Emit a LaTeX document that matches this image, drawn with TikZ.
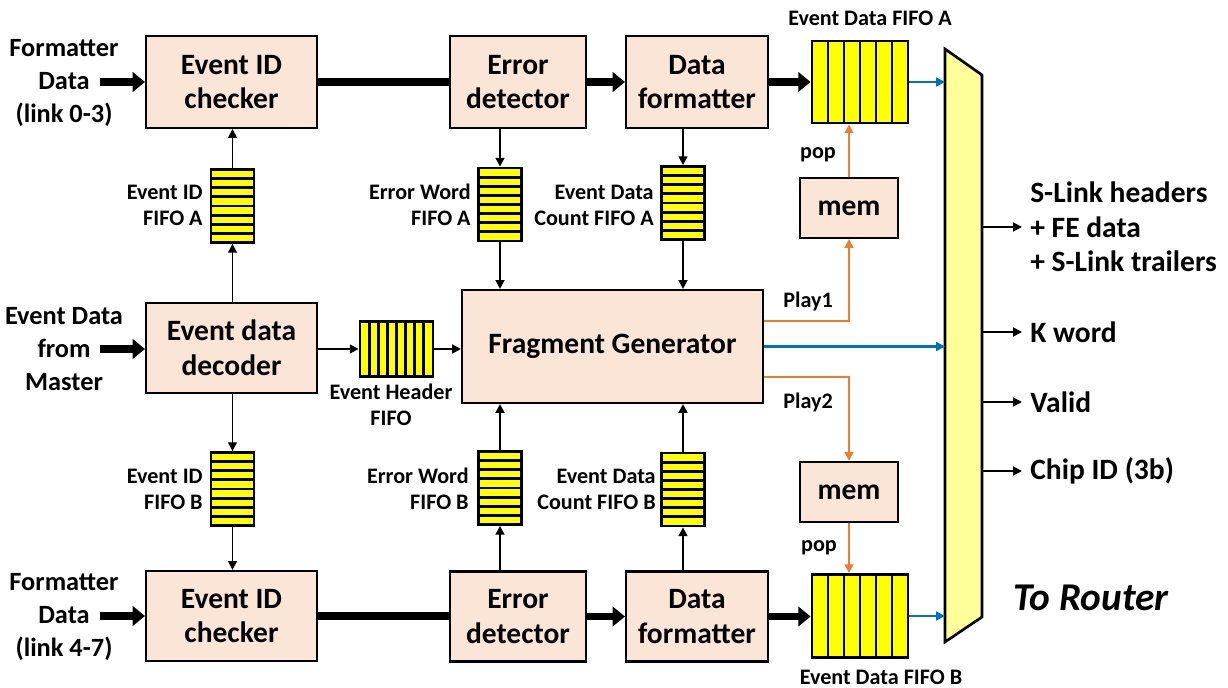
\documentclass[tikz,border=0pt]{standalone}
\usepackage{fontspec}
\setmainfont{Carlito}
\usetikzlibrary{arrows.meta,calc}

\definecolor{blockfill}{RGB}{251,229,214}
\definecolor{fifoyellow}{RGB}{255,255,0}
\definecolor{muxfill}{RGB}{255,255,153}
\definecolor{outblue}{RGB}{0,112,192}
\definecolor{playorange}{RGB}{237,125,49}

\tikzset{
  block/.style={draw, fill=blockfill, line width=1.2pt, align=center, inner sep=0pt,
    font=\fontsize{16.8}{19.8}\selectfont\bfseries},
  fifo/.style={draw, fill=fifoyellow, line width=1.6pt, inner sep=0pt},
  vfifo/.style={fifo, minimum width=0.86cm, minimum height=1.46cm,
    path picture={\foreach \k in {1,...,7}
      \draw[line width=1.6pt] ($(path picture bounding box.south west)!\k/8!(path picture bounding box.north west)$)
        -- ($(path picture bounding box.south east)!\k/8!(path picture bounding box.north east)$);}},
  hfifo/.style={fifo,
    path picture={\foreach \k in {1,...,#1}
      \draw[line width=1.6pt] ($(path picture bounding box.south west)!\k/#1!(path picture bounding box.south east)$)
        -- ($(path picture bounding box.north west)!\k/#1!(path picture bounding box.north east)$);}},
  lbl/.style={inner sep=0pt, font=\fontsize{12.6}{14.8}\selectfont\bfseries},
  side/.style={inner sep=0pt, align=center, font=\fontsize{15}{18.7}\selectfont\bfseries},
  outlbl/.style={inner sep=0pt, anchor=west, align=left, font=\fontsize{16.8}{19.5}\selectfont\bfseries},
  thickline/.style={line width=4pt},
  bigarr/.style={line width=4pt, -{Triangle[length=7pt,width=11pt]}},
  arr/.style={line width=1.1pt, -{Triangle[length=5pt,width=5pt]}},
  bluearr/.style={arr, line width=1.3pt, color=outblue},
  orangearr/.style={arr, line width=1.3pt, color=playorange},
  mux/.style={draw, fill=muxfill, line width=1.5pt, line join=miter}
}

\begin{document}
\begin{tikzpicture}[x=0.02cm, y=-0.02cm]
  \useasboundingbox (0,0) rectangle (1228,688);
  % Draw blocks
  \node[block, minimum width=3.42cm, minimum height=1.84cm] (chkA) at (231.5,82) {Event ID\\checker};
  \node[block, minimum width=2.72cm, minimum height=1.84cm] (errA) at (518,82) {Error\\detector};
  \node[block, minimum width=2.84cm, minimum height=1.84cm] (fmtA) at (697,82) {Data\\formatter};
  \node[block, minimum width=3.42cm, minimum height=1.8cm] (dec) at (231.5,348) {Event data\\decoder};
  \node[block, minimum width=6.02cm, minimum height=2.26cm] (fg) at (612.5,346.5) {Fragment Generator};
  \node[block, minimum width=3.42cm, minimum height=1.8cm] (chkB) at (231.5,616) {Event ID\\checker};
  \node[block, minimum width=2.72cm, minimum height=1.8cm] (errB) at (518,616.5) {Error\\detector};
  \node[block, minimum width=2.84cm, minimum height=1.8cm] (fmtB) at (697,616.5) {Data\\formatter};
  \node[block, minimum width=1.96cm, minimum height=1.2cm] (memA) at (849,208) {mem};
  \node[block, minimum width=1.96cm, minimum height=1.2cm] (memB) at (849,492) {mem};
  % Draw FIFOs
  \node[vfifo] (idA) at (232.5,206) {};
  \node[vfifo] (idB) at (232.5,489) {};
  \node[vfifo] (ewA) at (500,204.5) {};
  \node[vfifo] (ewB) at (500,488) {};
  \node[vfifo] (dcA) at (683,203) {};
  \node[vfifo] (dcB) at (683,489.5) {};
  \node[hfifo=8, minimum width=1.46cm, minimum height=1.1cm] (hdr) at (396.5,349) {};
  \node[hfifo=6, minimum width=1.92cm, minimum height=1.64cm] (edA) at (860,82) {};
  \node[hfifo=6, minimum width=1.92cm, minimum height=1.66cm] (edB) at (860,616) {};
  % Draw output mux
  \draw[mux] (945,49) coordinate (muxNW) -- (982,75) coordinate (muxNE)
    -- (982,617) coordinate (muxSE) -- (945,642) coordinate (muxSW) -- cycle;
  % Add input labels
  \node[side] (srcA) at (64,83) {Formatter\\Data\\(link 0-3)};
  \node[side] (srcM) at (64,349) {Event Data\\from\\Master};
  \node[side] (srcB) at (64,617) {Formatter\\Data\\(link 4-7)};
  \coordinate (inA) at (100,82);
  \coordinate (inM) at (100,349);
  \coordinate (inB) at (100,616);
  % Add FIFO labels
  \node[lbl, anchor=east, align=right] (idAtxt) at (203,205) {Event ID\\FIFO A};
  \node[lbl, anchor=east, align=right] (idBtxt) at (203,489) {Event ID\\FIFO B};
  \node[lbl, anchor=east, align=right] (ewAtxt) at (471,205) {Error Word\\FIFO A};
  \node[lbl, anchor=east, align=right] (ewBtxt) at (469,489) {Error Word\\FIFO B};
  \node[lbl, anchor=east, align=right] (dcAtxt) at (654,205) {Event Data\\Count FIFO A};
  \node[lbl, anchor=east, align=right] (dcBtxt) at (656,489) {Event Data\\Count FIFO B};
  \node[lbl, align=center] (hdrtxt) at (391,405) {Event Header\\FIFO};
  \node[lbl] (edAtxt) at (870,18) {Event Data FIFO A};
  \node[lbl] (edBtxt) at (881,677) {Event Data FIFO B};
  \node[lbl] (popA) at (818,155) {pop};
  \node[lbl] (popB) at (819,548) {pop};
  \node[lbl] (play1) at (808,301) {Play1};
  \node[lbl] (play2) at (808,402) {Play2};
  % Add output labels
  \node[outlbl] (outFE) at (1030,227) {S-Link headers\\+ FE data\\+ S-Link trailers};
  \node[outlbl] (outK) at (1030,332) {K word};
  \node[outlbl] (outV) at (1030,402) {Valid};
  \node[outlbl] (outC) at (1030,471) {Chip ID (3b)};
  \node[inner sep=0pt, font=\fontsize{22.4}{26}\selectfont\bfseries\itshape] (router) at (1091,598) {To Router};
  % Draw data path arrows
  \draw[bigarr] (inA) -- (chkA.west);
  \draw[bigarr] (inM) -- (inM -| dec.west);
  \draw[bigarr] (inB) -- (chkB.west);
  \draw[thickline] (chkA) -- (errA);
  \draw[thickline] (chkB.east) -- (chkB.east -| errB.west);
  \draw[bigarr] (errA) -- (fmtA);
  \draw[bigarr] (errB) -- (fmtB);
  \draw[bigarr] (fmtA) -- (edA);
  \draw[bigarr] (fmtB.east) -- (fmtB.east -| edB.west);
  % Draw FIFO arrows
  \draw[arr] (idA.north) -- (idA.north |- chkA.south);
  \draw[arr] (idA.south |- dec.north) -- (idA.south);
  \draw[arr] (idB.north |- dec.south) -- (idB.north);
  \draw[arr] (idB.south) -- (idB.south |- chkB.north);
  \draw[arr] (ewA.north |- errA.south) -- (ewA.north);
  \draw[arr] (ewA.south) -- (ewA.south |- fg.north);
  \draw[arr] (dcA.north |- fmtA.south) -- (dcA.north);
  \draw[arr] (dcA.south) -- (dcA.south |- fg.north);
  \draw[arr] (ewB.north) -- (ewB.north |- fg.south);
  \draw[arr] (ewB.south |- errB.north) -- (ewB.south);
  \draw[arr] (dcB.north) -- (dcB.north |- fg.south);
  \draw[arr] (dcB.south |- fmtB.north) -- (dcB.south);
  \draw[arr] (hdr.west -| dec.east) -- (hdr.west);
  \draw[arr] (hdr) -- (hdr -| fg.west);
  % Draw playback arrows
  \draw[orangearr] ($(fg.east)+(0,-25.5)$) -| (memA.south);
  \draw[orangearr] ($(fg.east)+(0,30.5)$) -| (memB.north);
  \draw[orangearr] (memA.north) -- (memA.north |- edA.south);
  \draw[orangearr] (memB.south) -- (memB.south |- edB.north);
  % Draw mux inputs and outputs
  \draw[bluearr] (edA.east) -- (edA.east -| muxNW);
  \draw[bluearr] (fg.east) -- (fg.east -| muxNW);
  \draw[bluearr] (edB.east) -- (edB.east -| muxNW);
  \draw[arr] (outFE.west -| muxNE) -- ++(40,0) coordinate (outFEtip);
  \draw[arr] (outK.west -| muxNE) -- ++(40,0) coordinate (outKtip);
  \draw[arr] (outV.west -| muxNE) -- ++(40,0) coordinate (outVtip);
  \draw[arr] (outC.west -| muxNE) -- ++(40,0) coordinate (outCtip);
\end{tikzpicture}
\end{document}
